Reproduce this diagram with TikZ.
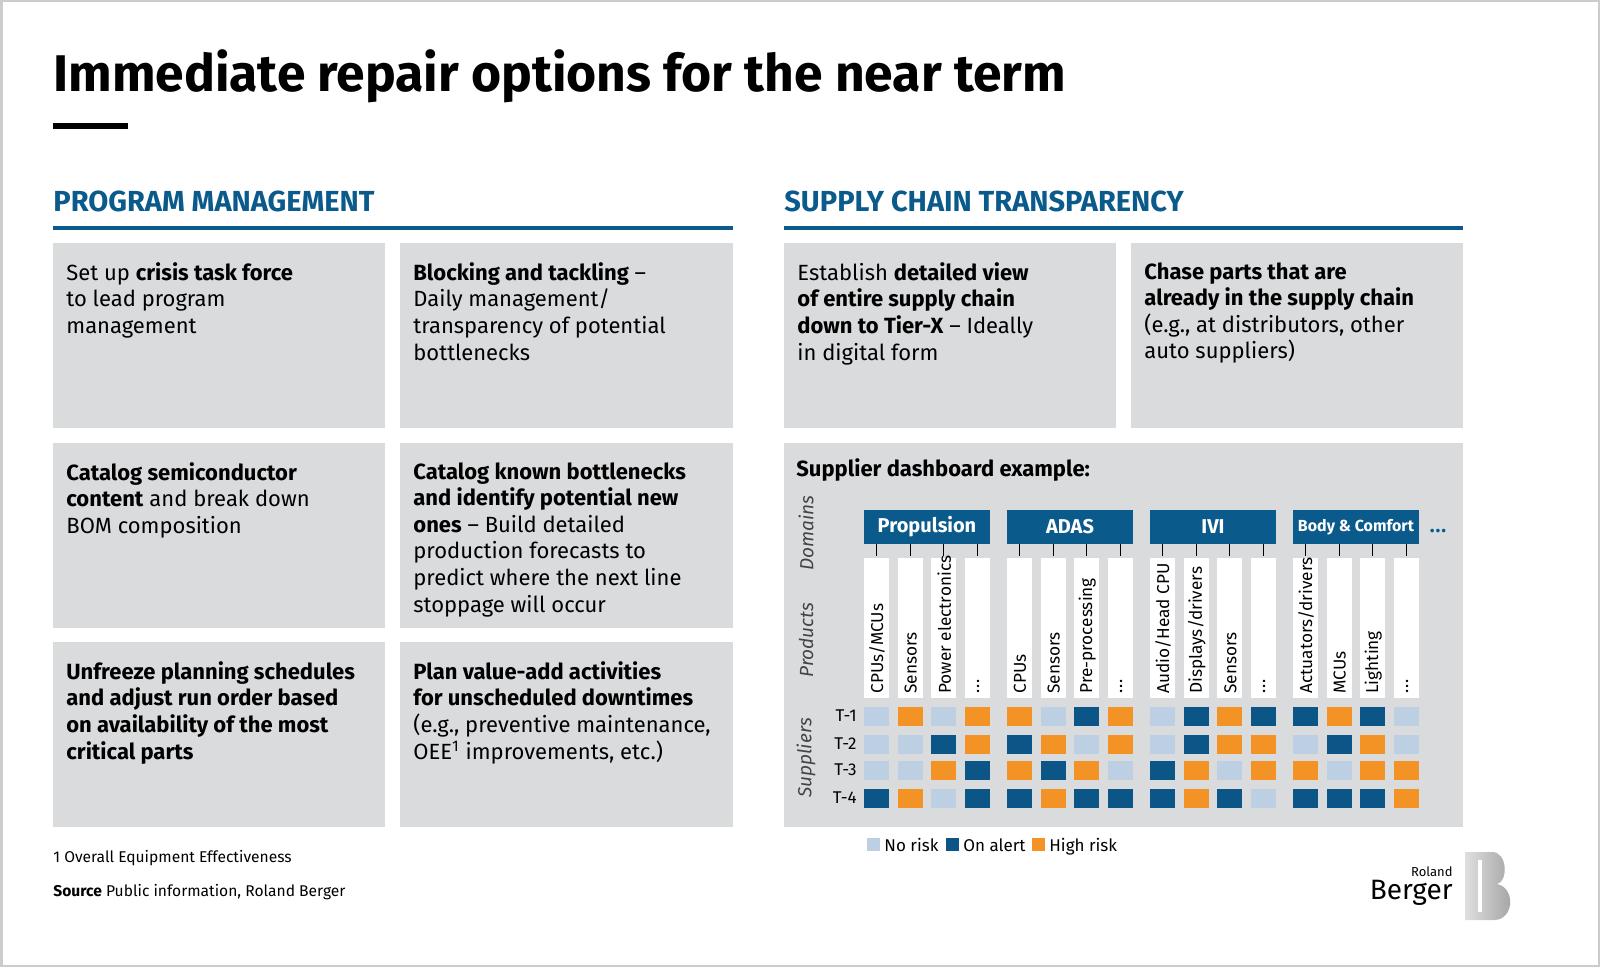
\documentclass[tikz,border=0pt]{standalone}
\usepackage{fontspec}
\setmainfont{Fira Sans}
\definecolor{rbblue}{HTML}{0B5A8C}
\definecolor{boxgray}{HTML}{DADBDD}
\definecolor{cL}{HTML}{BDD0E3}
\definecolor{cO}{HTML}{F39325}
\definecolor{cB}{HTML}{0B5587}
\definecolor{labgray}{HTML}{444444}
\newcommand{\dd}{.\kern0.5pt.\kern0.5pt.}
\begin{document}
\begin{tikzpicture}[x=0.5pt,y=-0.5pt,
  gbox/.style={fill=boxgray,draw=none},
  btxt/.style={anchor=north west,inner sep=0pt,align=left,font=\fontsize{11}{13.3}\selectfont,text=black},
  sect/.style={anchor=west,inner sep=0pt,font=\fontsize{14.5}{16}\selectfont\bfseries,text=rbblue},
  dom/.style={fill=rbblue,text=white,font=\fontsize{10}{12}\selectfont\bfseries,inner sep=0pt,minimum width=63pt,minimum height=17pt},
  prod/.style={rotate=90,anchor=west,inner sep=0pt,font=\fontsize{8.6}{10}\selectfont},
  side/.style={rotate=90,inner sep=0pt,font=\fontsize{9.5}{11}\selectfont\itshape,text=labgray},
  leg/.style={anchor=base west,inner sep=0pt,font=\fontsize{8.5}{10}\selectfont}]
\useasboundingbox (0,0) rectangle (1600,967);
\fill[white] (0,0) rectangle (1600,967);
\draw[gray!40,line width=1.5pt] (1,1) rectangle (1599,966);
% title
\node[anchor=base west,inner sep=0pt,font=\fontsize{25.8}{30}\selectfont\bfseries] (title) at (53,92) {Immediate repair options for the near term};
\fill[black] (53,123) rectangle (128,129);
% sections
\node[sect] (pm) at (53,201) {PROGRAM MANAGEMENT};
\node[sect] (sc) at (784,201) {SUPPLY CHAIN TRANSPARENCY};
\fill[rbblue] (53,226) rectangle (733,230);
\fill[rbblue] (784,226) rectangle (1463,230);
% boxes
\fill[gbox] (53,243) rectangle (385,428);
\fill[gbox] (400,243) rectangle (733,428);
\fill[gbox] (53,443) rectangle (385,628);
\fill[gbox] (400,443) rectangle (733,628);
\fill[gbox] (53,642) rectangle (385,827);
\fill[gbox] (400,642) rectangle (733,827);
\fill[gbox] (784,243) rectangle (1116,428);
\fill[gbox] (1131,243) rectangle (1463,428);
\fill[gbox] (784,443) rectangle (1463,827);
\node[btxt] (t1) at (66,262) {Set up \textbf{crisis task force}\\to lead program\\management};
\node[btxt] (t2) at (413,262) {\textbf{Blocking and tackling} --\\Daily management/\\transparency of potential\\bottlenecks};
\node[btxt] (t3) at (66,462) {\textbf{Catalog semiconductor}\\\textbf{content} and break down\\BOM composition};
\node[btxt] (t4) at (413,462) {\textbf{Catalog known bottlenecks}\\\textbf{and identify potential new}\\\textbf{ones} -- Build detailed\\production forecasts to\\predict where the next line\\stoppage will occur};
\node[btxt] (t5) at (66,661) {\textbf{Unfreeze planning schedules}\\\textbf{and adjust run order based}\\\textbf{on availability of the most}\\\textbf{critical parts}};
\node[btxt] (t6) at (413,661) {\textbf{Plan value-add activities}\\\textbf{for unscheduled downtimes}\\(e.g., preventive maintenance,\\OEE\textsuperscript{1} improvements, etc.)};
\node[btxt] (t7) at (797,262) {Establish \textbf{detailed view}\\\textbf{of entire supply chain}\\\textbf{down to Tier-X} -- Ideally\\in digital form};
\node[btxt] (t8) at (1144,262) {\textbf{Chase parts that are}\\\textbf{already in the supply chain}\\(e.g., at distributors, other\\auto suppliers)};
% dashboard
\node[anchor=west,inner sep=0pt,font=\fontsize{11}{13}\selectfont\bfseries] (dt) at (796,470) {Supplier dashboard example:};
\node[side] (ld) at (806,533) {Domains};
\node[side] (lp) at (806,640) {Products};
\node[side] (ls) at (806,758) {Suppliers};
\node[dom] (dp) at (927,527) {Propulsion};
\node[dom] (da) at (1070,527) {ADAS};
\node[dom] (di) at (1213,527) {IVI};
\node[dom] (db) at (1356,527) {\fontsize{8}{10}\selectfont Body \& Comfort};
\node[text=rbblue,font=\bfseries,inner sep=0pt] (dots) at (1438,531) {\dd};
\foreach \p [count=\i from 0] in {CPUs/MCUs,Sensors,Power electronics,\dd,CPUs,Sensors,Pre-processing,\dd,Audio/Head CPU,Displays/drivers,Sensors,\dd,Actuators/drivers,MCUs,Lighting,\dd}{
  \pgfmathtruncatemacro{\g}{int(\i/4)}
  \pgfmathtruncatemacro{\j}{mod(\i,4)}
  \pgfmathsetmacro{\xx}{864+\g*143+\j*33.67}
  \fill[white] (\xx,558) rectangle ({\xx+25},698);
  \draw[black,line width=0.6pt] ({\xx+12.5},544) -- ({\xx+12.5},556);
  \node[prod] (p\i) at ({\xx+13},694) {\p};
}
\foreach \r/\y/\cs in {1/716/{L,O,L,O,O,L,B,O,L,B,O,B,B,O,B,L},
                       2/744/{L,L,B,O,B,O,L,O,L,B,O,O,L,B,O,L},
                       3/770/{L,L,O,B,O,B,O,L,B,O,L,O,O,L,O,O},
                       4/798/{B,O,L,B,B,O,B,B,B,O,B,L,B,B,B,O}}{
  \node[anchor=east,inner sep=0pt,font=\fontsize{8.5}{10}\selectfont] (r\r) at (857,\y) {T-\r};
  \foreach \c [count=\i from 0] in \cs {
    \pgfmathtruncatemacro{\g}{int(\i/4)}
    \pgfmathtruncatemacro{\j}{mod(\i,4)}
    \pgfmathsetmacro{\xx}{864+\g*143+\j*33.67}
    \fill[c\c] (\xx,\y-9.5) rectangle ({\xx+25},\y+9.5);
  }
}
% legend
\fill[cL] (867,838) rectangle (880,851);
\node[leg] (lg1) at (884,851) {No risk};
\fill[cB] (946,838) rectangle (959,851);
\node[leg] (lg2) at (963,851) {On alert};
\fill[cO] (1032,838) rectangle (1045,851);
\node[leg] (lg3) at (1049,851) {High risk};
% footnotes
\node[anchor=west,inner sep=0pt,font=\fontsize{7.8}{9}\selectfont] (fn) at (53,858) {1 Overall Equipment Effectiveness};
\node[anchor=west,inner sep=0pt,font=\fontsize{7.8}{9}\selectfont] (src) at (53,892) {\textbf{Source} Public information, Roland Berger};
% logo
\node[anchor=base east,inner sep=0pt,font=\fontsize{6.5}{8}\selectfont] (rl) at (1453,876) {Roland};
\node[anchor=base east,inner sep=0pt,font=\fontsize{14}{16}\selectfont] (rb) at (1453,899) {Berger};
\shade[left color=gray!25,right color=gray!75] (1465,852) -- (1492,852) .. controls (1508,852) and (1508,882) .. (1497,884) .. controls (1516,888) and (1514,920) .. (1494,920) -- (1465,920) -- cycle;
\fill[white] (1478,860) rectangle (1482,912);
\end{tikzpicture}
\end{document}
